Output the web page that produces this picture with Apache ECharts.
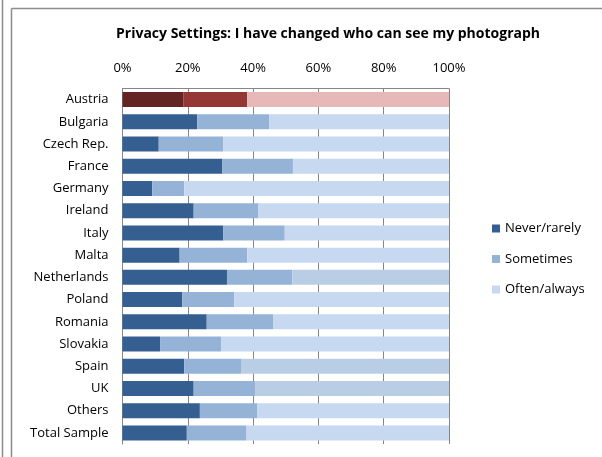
<!DOCTYPE html>
<html>
<head>
<meta charset="utf-8">
<script src="https://cdn.jsdelivr.net/npm/echarts@6/dist/echarts.min.js"></script>
<style>html,body{margin:0;padding:0;background:#fff}#c{width:602px;height:457px}</style>
</head>
<body>
<div id="c"></div>
<script>
var categories = ["Austria","Bulgaria","Czech Rep.","France","Germany","Ireland","Italy","Malta","Netherlands","Poland","Romania","Slovakia","Spain","UK","Others","Total Sample"];
var neverRarely = [18.6,22.9,11.1,30.6,9.1,21.8,30.9,17.5,32.0,18.3,25.8,11.5,18.9,21.8,23.7,19.7];
var sometimes   = [19.6,22.0,19.7,21.6,9.8,19.7,18.8,20.7,20.0,15.9,20.3,18.7,17.4,18.8,17.5,18.3];
var oftenAlways = [61.8,55.1,69.2,47.8,81.1,58.5,50.3,61.8,48.0,65.8,53.9,69.8,63.7,59.4,58.8,62.0];
var seriesNames = ["Never/rarely","Sometimes","Often/always"];
var tickLabels = ["0%","20%","40%","60%","80%","100%"];

var baseColors = ["#355f91","#95b3d7","#c6d9f1"];
var austriaColors = ["#632523","#953735","#e6b9b8"];
var darkerLight = {"Netherlands":"#b9cde5","Spain":"#b9cde5","UK":"#b9cde5"};

function build(vals, idx){
  return vals.map(function(v,i){
    var c = categories[i];
    var col = baseColors[idx];
    if (c === "Austria") col = austriaColors[idx];
    else if (idx === 2 && darkerLight[c]) col = darkerLight[c];
    return {value:v, itemStyle:{color:col}};
  });
}
var allVals = [neverRarely, sometimes, oftenAlways];
var FONT = "Open Sans";
var series = seriesNames.map(function(n,k){
  return {name:n,type:'bar',stack:'s',barWidth:15,data:build(allVals[k],k),
    itemStyle:{color:baseColors[k]}, emphasis:{disabled:true}};
});

var chart = echarts.init(document.getElementById('c'),null,{renderer:'canvas'});
chart.setOption({
  animation:false,
  title:{text:"Privacy Settings: I have changed who can see my photograph",left:323,top:22,textAlign:'center',
    textStyle:{fontFamily:FONT,fontWeight:'bold',fontSize:14,color:'#000'}},
  legend:{orient:'vertical',left:487,top:217,itemWidth:8,itemHeight:8,itemGap:17.5,icon:'rect',
    textStyle:{fontFamily:FONT,fontSize:13,color:'#000'},
    data:seriesNames},
  grid:{left:122.5,right:153,top:88.5,bottom:13,containLabel:false},
  xAxis:{type:'value',position:'top',min:0,max:100,interval:20,
    axisLine:{show:true,lineStyle:{color:'#868686',width:1}},
    axisTick:{show:false},
    splitLine:{show:true,lineStyle:{color:'#868686',width:1}},
    axisLabel:{margin:14,fontFamily:FONT,fontSize:13,color:'#000',
      formatter:function(v){return tickLabels[Math.round(v/20)];}}},
  yAxis:{type:'category',inverse:true,data:categories,
    axisLine:{show:true,lineStyle:{color:'#868686',width:1}},
    axisTick:{show:false},
    axisLabel:{margin:14,fontFamily:FONT,fontSize:13,color:'#000'}},
  series:series,
  graphic:[
    {type:'line',shape:{x1:2.5,y1:0,x2:2.5,y2:457},style:{stroke:'#8c8c8c',lineWidth:1.5},silent:true},
    {type:'line',shape:{x1:11.5,y1:8.5,x2:11.5,y2:457},style:{stroke:'#8c8c8c',lineWidth:1.5},silent:true},
    {type:'line',shape:{x1:11.5,y1:8.5,x2:602,y2:8.5},style:{stroke:'#8c8c8c',lineWidth:1.5},silent:true}
  ]
});
</script>
</body>
</html>
